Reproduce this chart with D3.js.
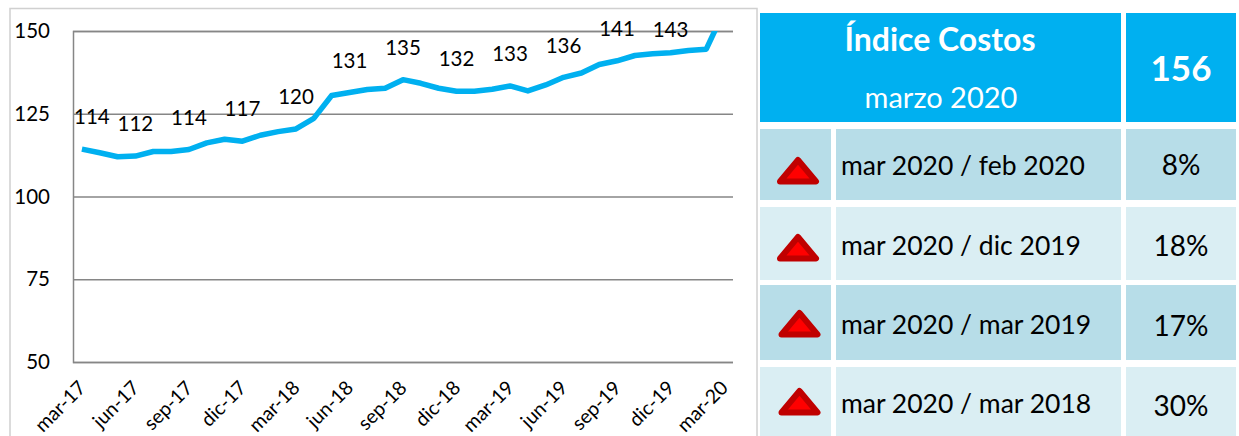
<!DOCTYPE html>
<html>
<head>
<meta charset="utf-8">
<script src="https://cdn.jsdelivr.net/npm/d3@7"></script>
<style>
    body { margin: 0; background: #fff; }
    svg { display: block; font-family: Lato, "Open Sans", sans-serif; }
</style>
</head>
<body>
<div id="grafico"></div>
<script>
const meses = ["mar-17","abr-17","may-17","jun-17","jul-17","ago-17","sep-17","oct-17","nov-17","dic-17","ene-18","feb-18",
    "mar-18","abr-18","may-18","jun-18","jul-18","ago-18","sep-18","oct-18","nov-18","dic-18","ene-19","feb-19",
    "mar-19","abr-19","may-19","jun-19","jul-19","ago-19","sep-19","oct-19","nov-19","dic-19","ene-20","feb-20","mar-20"];
const indice = [114.3,113.2,112.0,112.2,113.6,113.6,114.2,116.2,117.3,116.7,118.5,119.6,
    120.4,123.6,130.5,131.4,132.3,132.7,135.3,134.2,132.7,131.8,131.8,132.4,
    133.4,131.9,133.7,136.0,137.3,139.9,141.0,142.6,143.1,143.4,144.1,144.5,156.0];
const ticksY = [50,75,100,125,150];
const titulo = "Índice Costos";
const subtitulo = "marzo 2020";
const valorActual = "156";
const comparaciones = ["mar 2020 / feb 2020","mar 2020 / dic 2019","mar 2020 / mar 2019","mar 2020 / mar 2018"];
const variaciones = ["8%","18%","17%","30%"];

const dim = { ancho: 1239, alto: 436, left: 73, right: 733, top: 31, bottom: 362 };

const svg = d3.select("#grafico").append("svg")
    .attr("width", dim.ancho)
    .attr("height", dim.alto);

// marco del grafico, se corta abajo igual que la imagen
svg.append("rect")
    .attr("x", 10).attr("y", 8.5)
    .attr("width", 747).attr("height", 450)
    .attr("fill", "#fff")
    .attr("stroke", "#d0d0d0")
    .attr("stroke-width", 1.5);

const x = d3.scaleBand().domain(meses).range([dim.left, dim.right]);
const y = d3.scaleLinear().domain([50, 150]).range([dim.bottom, dim.top]);

const ejeY = svg.append("g")
    .attr("transform", `translate(${dim.left},0)`)
    .call(d3.axisLeft(y).tickValues(ticksY).tickSize(-(dim.right - dim.left)).tickPadding(23));
ejeY.selectAll(".tick line").attr("stroke", "#868686").attr("stroke-width", 1.5);
ejeY.select(".domain").attr("stroke", "#868686").attr("stroke-width", 1.5);
ejeY.selectAll("text")
    .attr("font-size", 20.5)
    .attr("font-family", "Lato")
    .attr("fill", "#000");

const ejeX = svg.append("g")
    .attr("transform", `translate(0,${dim.bottom})`)
    .call(d3.axisBottom(x).tickValues(meses.filter((d, i) => i % 3 == 0)).tickSize(0));
ejeX.select(".domain").remove();
ejeX.selectAll("text")
    .attr("font-size", 19.5)
    .attr("font-family", "Lato")
    .attr("fill", "#000")
    .attr("text-anchor", "end")
    .attr("dy", 0)
    .attr("transform", "translate(3,25) rotate(-45)");

// la linea se sale del maximo del eje y queda cortada
svg.append("clipPath").attr("id", "recorte")
    .append("rect")
    .attr("x", dim.left).attr("y", dim.top)
    .attr("width", dim.right - dim.left)
    .attr("height", dim.bottom - dim.top);

const linea = d3.line()
    .x((d, i) => x(meses[i]) + x.bandwidth() / 2)
    .y(d => y(d));

svg.append("path")
    .datum(indice)
    .attr("clip-path", "url(#recorte)")
    .attr("d", linea)
    .attr("fill", "none")
    .attr("stroke", "#00b0f0")
    .attr("stroke-width", 5.5)
    .attr("stroke-linejoin", "round");

// etiquetas cada tres meses, la ultima no se muestra
const etiquetas = indice.map((v, i) => ({ v: v, i: i })).filter(d => d.i % 3 == 0 && d.i < 36);
svg.selectAll(".etiqueta")
    .data(etiquetas)
    .enter()
    .append("text")
    .attr("class", "etiqueta")
    .attr("x", d => x(meses[d.i]) + x.bandwidth() / 2 + (d.i == 0 ? 10 : 0))
    .attr("y", d => y(d.v) - (d.i == 33 ? 23 : 32))
    .attr("dy", ".35em")
    .attr("text-anchor", "middle")
    .attr("font-size", 20.5)
    .attr("fill", "#000")
    .text(d => d3.format(".0f")(d.v));

// tabla de la derecha
const colIcono = { x: 760, w: 71 };
const colTexto = { x: 836, w: 285 };
const colValor = { x: 1126, w: 110 };
const filas = [
    { y: 129, h: 71, color: "#b7dde8", base: 175, baseValor: 175, triX: 798, triY: 157 },
    { y: 207, h: 73, color: "#daeef3", base: 255, baseValor: 256, triX: 798, triY: 234 },
    { y: 285, h: 75, color: "#b7dde8", base: 334, baseValor: 336, triX: 799.5, triY: 310 },
    { y: 367, h: 69, color: "#daeef3", base: 413, baseValor: 416, triX: 799.5, triY: 388 }
];

const cabecera = svg.append("g");
cabecera.append("rect").attr("x", 760).attr("y", 13).attr("width", 361).attr("height", 109).attr("fill", "#00b0f0");
cabecera.append("rect").attr("x", colValor.x).attr("y", 13).attr("width", colValor.w).attr("height", 109).attr("fill", "#00b0f0");
cabecera.append("text").attr("x", 940).attr("y", 51).attr("text-anchor", "middle")
    .attr("font-size", 32).attr("font-weight", 700).attr("fill", "#fff").text(titulo);
cabecera.append("text").attr("x", 941).attr("y", 108).attr("text-anchor", "middle")
    .attr("font-size", 29).attr("fill", "#fff").text(subtitulo);
cabecera.append("text").attr("x", colValor.x + colValor.w / 2).attr("y", 81).attr("text-anchor", "middle")
    .attr("font-size", 35).attr("font-weight", 700).attr("fill", "#fff").text(valorActual);

const fila = svg.selectAll(".fila")
    .data(filas)
    .enter()
    .append("g")
    .attr("class", "fila");

[colIcono, colTexto, colValor].forEach(col => {
    fila.append("rect")
        .attr("x", col.x)
        .attr("y", d => d.y)
        .attr("width", col.w)
        .attr("height", d => d.h)
        .attr("fill", d => d.color);
});

fila.append("path")
    .attr("transform", d => `translate(${d.triX},${d.triY})`)
    .attr("d", "M0,3 L18,24.5 L-18,24.5 Z")
    .attr("fill", "#ff0000")
    .attr("stroke", "#c00000")
    .attr("stroke-width", 6)
    .attr("stroke-linejoin", "round");

fila.append("text")
    .attr("x", colTexto.x + 5)
    .attr("y", d => d.base)
    .attr("font-size", 26.5)
    .attr("fill", "#000")
    .text((d, i) => comparaciones[i]);

fila.append("text")
    .attr("x", colValor.x + colValor.w / 2)
    .attr("y", d => d.baseValor)
    .attr("text-anchor", "middle")
    .attr("font-size", 28)
    .attr("fill", "#000")
    .text((d, i) => variaciones[i]);
</script>
</body>
</html>
